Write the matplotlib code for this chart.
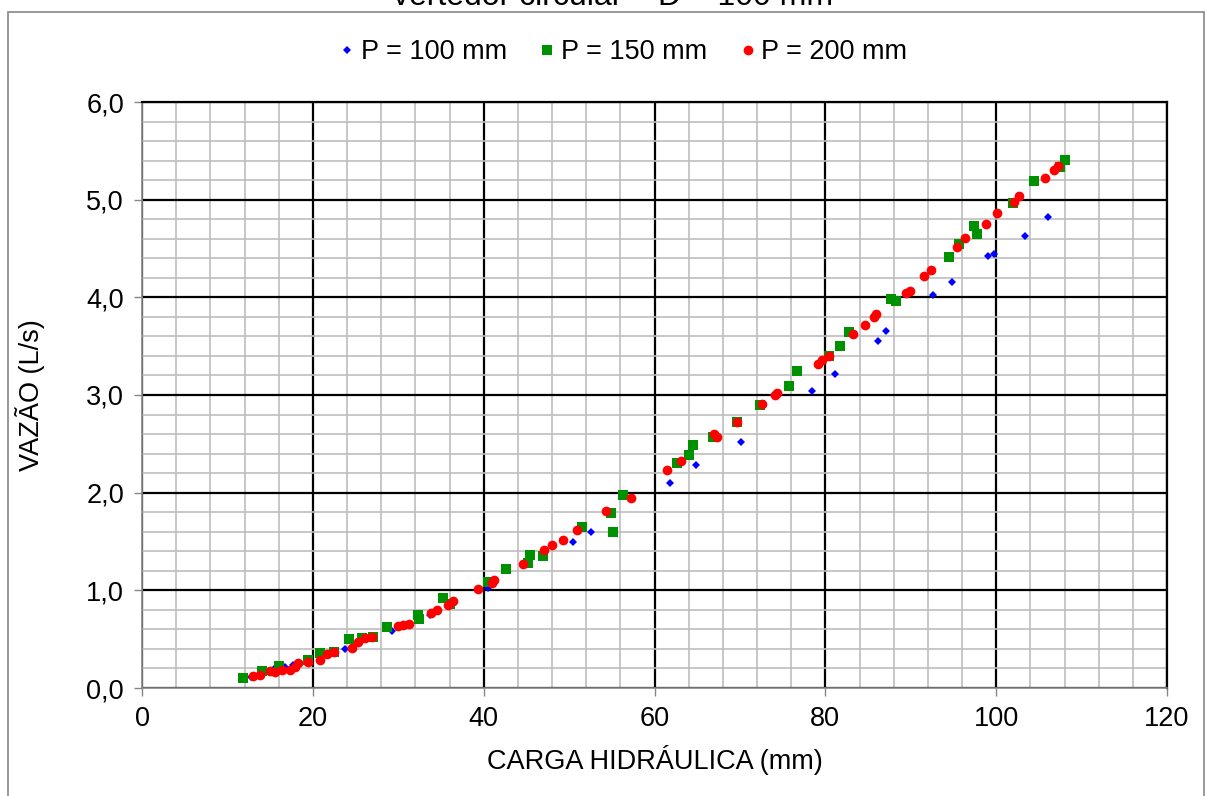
import matplotlib
matplotlib.use("Agg")
import matplotlib.pyplot as plt
from matplotlib.patches import Rectangle
from matplotlib.ticker import MultipleLocator, FuncFormatter

plt.rcParams['font.family'] = ['Liberation Sans', 'DejaVu Sans']

# P = 100 mm
h100 = [12.8, 15.6, 16.7, 17.7, 23.8, 29.3, 33.7, 40.5, 50.5, 52.6, 61.8, 64.9,
        70.1, 78.4, 81.1, 86.2, 87.1, 92.6, 94.8, 99.0, 99.7, 103.4, 106.1]
q100 = [0.11, 0.20, 0.22, 0.24, 0.40, 0.58, 0.75, 1.02, 1.49, 1.60, 2.10, 2.28,
        2.52, 3.04, 3.22, 3.55, 3.66, 4.02, 4.16, 4.42, 4.44, 4.63, 4.82]

# P = 150 mm
h150 = [11.8, 14.0, 16.0, 19.4, 20.8, 22.5, 24.2, 25.8, 27.0, 28.7, 32.3, 32.4,
        35.2, 36.1, 40.5, 42.6, 45.2, 45.4, 46.9, 51.5, 54.9, 55.1, 56.3, 62.6,
        64.0, 64.5, 66.9, 69.7, 72.3, 75.7, 76.7, 80.4, 81.7, 82.8, 87.7, 88.3,
        94.5, 95.6, 97.4, 97.7, 102.0, 104.4, 107.5, 108.1]
q150 = [0.10, 0.17, 0.23, 0.29, 0.36, 0.37, 0.50, 0.51, 0.52, 0.62, 0.75, 0.71,
        0.92, 0.86, 1.09, 1.22, 1.28, 1.36, 1.35, 1.65, 1.79, 1.60, 1.98, 2.30,
        2.39, 2.49, 2.57, 2.72, 2.90, 3.09, 3.25, 3.40, 3.50, 3.65, 3.98, 3.96,
        4.41, 4.55, 4.73, 4.65, 4.97, 5.19, 5.33, 5.41]

# P = 200 mm
h200 = [13.0, 13.8, 15.0, 15.6, 16.4, 17.3, 17.9, 18.3, 19.4, 20.8, 21.6, 22.5,
        24.6, 25.3, 26.1, 26.9, 30.0, 30.6, 31.3, 33.8, 34.5, 35.8, 36.4, 39.3,
        41.0, 41.2, 44.6, 47.1, 48.0, 49.3, 50.9, 54.3, 57.2, 61.5, 63.1, 67.0,
        67.3, 69.7, 72.6, 74.1, 74.3, 79.1, 79.6, 80.4, 83.2, 84.6, 85.7, 85.9,
        89.4, 89.9, 91.5, 92.4, 95.4, 96.3, 98.8, 100.1, 102.1, 102.7, 105.7,
        106.8, 107.2]
q200 = [0.12, 0.13, 0.17, 0.16, 0.18, 0.18, 0.22, 0.26, 0.27, 0.29, 0.35, 0.37,
        0.41, 0.47, 0.51, 0.52, 0.63, 0.64, 0.66, 0.77, 0.80, 0.85, 0.89, 1.01,
        1.08, 1.11, 1.27, 1.41, 1.46, 1.52, 1.62, 1.81, 1.95, 2.23, 2.32, 2.60,
        2.57, 2.72, 2.91, 3.00, 3.02, 3.32, 3.36, 3.40, 3.62, 3.72, 3.80, 3.83,
        4.04, 4.06, 4.22, 4.28, 4.52, 4.61, 4.75, 4.86, 4.98, 5.04, 5.22,
        5.30, 5.34]

fs = 19.5

fig = plt.figure(figsize=(12.06, 7.96), dpi=100)
ax = fig.add_axes([142 / 1206, 108 / 796, 1025 / 1206, 586 / 796])

ax.plot(h100, q100, 'D', color='#0000ff', ms=4.3, mew=0, label='P = 100 mm')
ax.plot(h150, q150, 's', color='#009100', ms=7.5, mew=0, label='P = 150 mm')
ax.plot(h200, q200, 'o', color='#ff0000', ms=7, mew=0, label='P = 200 mm')

ax.set_xlim(0, 120)
ax.set_ylim(0, 6)
ax.xaxis.set_major_locator(MultipleLocator(20))
ax.xaxis.set_minor_locator(MultipleLocator(4))
ax.yaxis.set_major_locator(MultipleLocator(1))
ax.yaxis.set_minor_locator(MultipleLocator(0.2))
ax.yaxis.set_major_formatter(FuncFormatter(lambda v, p: f"{v:.1f}".replace('.', ',')))

ax.set_axisbelow(True)
ax.grid(which='minor', color='#bdbdbd', lw=1.2)
ax.grid(which='major', color='black', lw=1.6)
ax.tick_params(which='minor', length=0)
ax.tick_params(which='major', direction='out', length=6, width=1, color='#868686',
               labelsize=fs, pad=7)

for side in ('left', 'bottom'):
    ax.spines[side].set_color('#868686')
    ax.spines[side].set_linewidth(1.2)
for side in ('top', 'right'):
    ax.spines[side].set_color('black')
    ax.spines[side].set_linewidth(1.6)

fig.text(30 / 1206, 1 - 395 / 796, 'VAZÃO (L/s)', rotation=90, ha='center',
         va='center', fontsize=fs)
fig.text(655 / 1206, 1 - 760 / 796, 'CARGA HIDRÁULICA (mm)', ha='center',
         va='center', fontsize=fs)

fig.legend(loc='center', bbox_to_anchor=(621 / 1206, 1 - 52 / 796), ncol=3,
           frameon=False, fontsize=fs, handletextpad=0.05, columnspacing=1.05,
           handlelength=0.9, markerscale=1.0)

# title, cut off at the top of the image
fig.text(613 / 1206, 1 - 5 / 796, 'vertedor circular – D = 100 mm', ha='center',
         va='baseline', fontsize=23)

fig.patches.append(Rectangle((8 / 1206, -0.01), 1196 / 1206, 1 - 12 / 796 + 0.01,
                             transform=fig.transFigure, fill=False,
                             edgecolor='#868686', lw=1.2))

fig.savefig('out.png', dpi=100)
